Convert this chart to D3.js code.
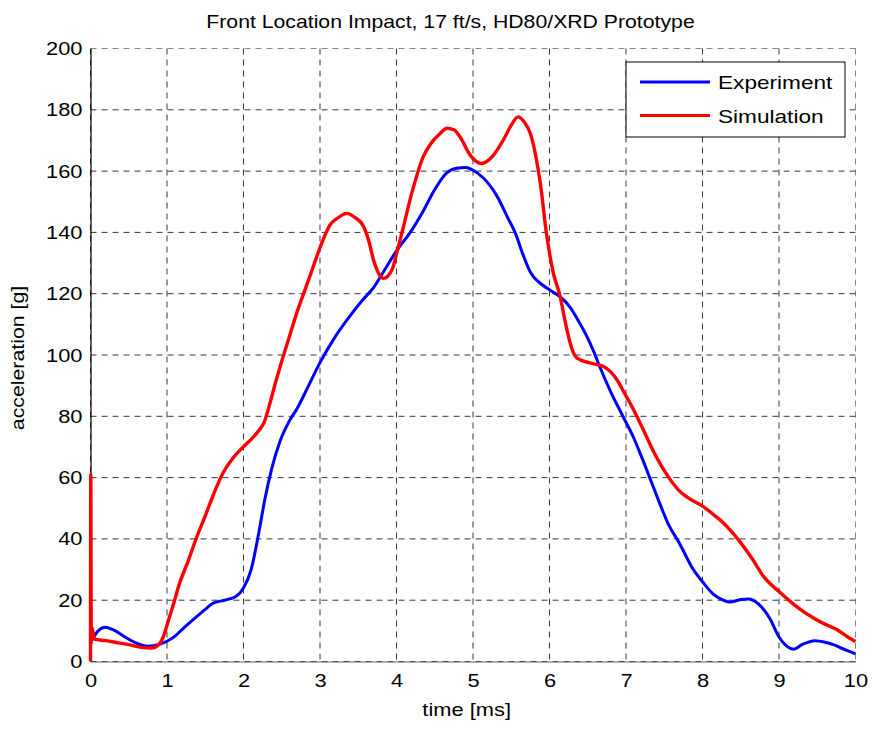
<!DOCTYPE html>
<html>
<head>
<meta charset="utf-8">
<script src="https://cdn.jsdelivr.net/npm/d3@7"></script>
<style>
  html, body { margin: 0; padding: 0; background: #fff; }
  svg { display: block; font-family: "Liberation Sans", Arial, sans-serif; }
</style>
</head>
<body>
<svg id="chart" width="875" height="729"></svg>
<script>
// Measured acceleration, [time ms, g]
const experimentT = [0.03,0.1,0.19,0.3,0.45,0.6,0.75,0.9,1.0,1.1,1.2,1.35,1.5,1.6,1.75,1.9,2.0,2.1,2.2,2.28,2.37,2.48,2.6,2.7,2.87,3.0,3.2,3.4,3.56,3.7,3.85,4.0,4.18,4.35,4.5,4.66,4.8,4.9,5.05,5.2,5.31,5.45,5.55,5.65,5.75,5.9,6.05,6.14,6.27,6.38,6.49,6.58,6.66,6.8,6.96,7.1,7.2,7.31,7.45,7.55,7.7,7.88,8.0,8.14,8.25,8.36,8.5,8.6,8.73,8.88,9.0,9.1,9.19,9.3,9.47,9.6,9.71,9.85,9.93,10];
const experimentG = [7.5,10,11.2,10.3,8,6,5,5.6,6.6,8.2,10.5,13.8,17,19,20,21.2,24,30,42,53,63,72,78.5,82.5,91,97.5,106,113,118,122,128,134,140,147,154,159.5,161,161.2,159.5,156,152,145,140,133,127,123,120.5,119,115.5,111,106,101,96,88,80,73,67,60,51,45,38.5,30,26,22,20.3,19.4,20.2,20.4,18.8,14,8,5,4,5.5,6.8,6.3,5.5,4,3.2,2.5];

// Simulated acceleration, [time ms, g]
const simulationT = [0,0.004,0.01,0.02,0.05,0.2,0.36,0.5,0.67,0.8,0.89,0.95,1.02,1.1,1.15,1.28,1.39,1.5,1.6,1.73,1.85,1.98,2.1,2.22,2.27,2.32,2.43,2.5,2.6,2.7,2.8,2.9,3.0,3.13,3.25,3.35,3.45,3.57,3.64,3.7,3.77,3.83,3.94,4.0,4.07,4.2,4.35,4.45,4.57,4.66,4.75,4.83,4.96,5.11,5.2,5.27,5.42,5.5,5.59,5.67,5.75,5.82,5.88,5.96,6.05,6.13,6.23,6.3,6.36,6.53,6.7,6.8,6.88,6.97,7.06,7.2,7.37,7.56,7.7,7.85,8.0,8.15,8.27,8.47,8.65,8.8,9.0,9.2,9.45,9.6,9.75,9.9,10];
const simulationG = [0,61,6,11,7.3,6.8,6.1,5.5,4.6,4.4,5.4,8,13.5,20,24.4,33,40.7,47.5,54,61.4,66,69.6,72.5,76,78,82,92,98,106,114,121,128,135,142.4,145,146.2,145,141.9,137,131,126.5,125,127.7,133,139.8,152.8,164.7,169,172.3,174,173.5,171.2,165.3,162.5,163.5,165.3,171.2,175,177.7,176,172.3,165,156,139.7,126.7,120,108,101.5,99,97.4,96.3,94.5,92,88,84,77,68,60,55.6,52.8,50.7,47.8,45.3,39.7,33.5,27.7,22.8,18.5,14.2,12.2,10.5,8,6.5];

const xTicks = [0,1,2,3,4,5,6,7,8,9,10];
const yTicks = [0,20,40,60,80,100,120,140,160,180,200];
const seriesNames = ["Experiment", "Simulation"];
const seriesColors = ["#0000ff", "#ff0000"];

const titleText = "Front Location Impact, 17 ft/s, HD80/XRD Prototype";
const xLabel = "time [ms]";
const yLabel = "acceleration [g]";

const svg = d3.select("#chart");
const plot = { left: 90.5, right: 855.5, top: 48.5, bottom: 661.5 };
const FONT = "Liberation Sans, Arial, sans-serif";

// widen glyphs horizontally by factor k (text stays real text)
function widen(sel, k) {
  sel.each(function () {
    const w = this.getComputedTextLength();
    d3.select(this).attr("textLength", w * k).attr("lengthAdjust", "spacingAndGlyphs");
  });
}

const x = d3.scaleLinear().domain([0, 10]).range([plot.left, plot.right]);
const y = d3.scaleLinear().domain([0, 200]).range([plot.bottom, plot.top]);

// dashed grid
const grid = svg.append("g");
grid.selectAll(".vg").data(xTicks).join("line")
  .attr("x1", d => x(d)).attr("x2", d => x(d))
  .attr("y1", plot.top).attr("y2", plot.bottom)
  .attr("stroke", "#222").attr("stroke-width", 1).attr("stroke-dasharray", "6,5")
  .attr("stroke-opacity", d => (d === 10 ? 0.55 : 0.9));
grid.selectAll(".hg").data(yTicks).join("line")
  .attr("x1", plot.left).attr("x2", plot.right)
  .attr("y1", d => y(d)).attr("y2", d => y(d))
  .attr("stroke", "#222").attr("stroke-width", 1).attr("stroke-dasharray", "6,5")
  .attr("stroke-opacity", d => (d === 200 ? 0.55 : 0.9));

// axes
const xAxis = d3.axisBottom(x).tickValues(xTicks).tickSize(0).tickPadding(12).tickFormat(d3.format("d"));
const yAxis = d3.axisLeft(y).tickValues(yTicks).tickSize(0).tickPadding(8).tickFormat(d3.format("d"));

const gx = svg.append("g").attr("transform", `translate(0,${plot.bottom})`).call(xAxis);
gx.select(".domain").attr("stroke", "#666").attr("stroke-width", 1);
gx.selectAll("text").attr("font-size", 19).attr("fill", "#000").attr("font-family", FONT)
  .call(widen, 1.15);

const gy = svg.append("g").attr("transform", `translate(${plot.left},0)`).call(yAxis);
gy.select(".domain").attr("stroke", "#000").attr("stroke-width", 1.2);
gy.selectAll("text").attr("font-size", 19).attr("fill", "#000").attr("font-family", FONT)
  .call(widen, 1.15);

// curves
const line = d3.line().x(d => x(d[0])).y(d => y(d[1])).curve(d3.curveMonotoneX);
const experiment = experimentT.map((t, i) => [t, experimentG[i]]);
const simulation = simulationT.map((t, i) => [t, simulationG[i]]);

svg.append("path").datum(experiment).attr("d", line)
  .attr("fill", "none").attr("stroke", seriesColors[0]).attr("stroke-width", 3)
  .attr("stroke-linejoin", "round");
svg.append("path").datum(simulation).attr("d", line)
  .attr("fill", "none").attr("stroke", seriesColors[1]).attr("stroke-width", 3.4)
  .attr("stroke-linejoin", "round");

// title and axis labels
svg.append("text").attr("x", 450.5).attr("y", 27.5)
  .attr("text-anchor", "middle").attr("font-size", 17.7).text(titleText)
  .call(widen, 1.2);
svg.append("text").attr("x", 466.7).attr("y", 716)
  .attr("text-anchor", "middle").attr("font-size", 19).text(xLabel)
  .call(widen, 1.15);
svg.append("text").attr("transform", `translate(23.5,358) rotate(-90)`)
  .attr("text-anchor", "middle").attr("font-size", 19).text(yLabel)
  .call(widen, 1.12);

// legend
const lg = svg.append("g").attr("transform", "translate(626,62)");
lg.append("rect").attr("width", 219).attr("height", 75)
  .attr("fill", "#fff").attr("stroke", "#000").attr("stroke-width", 1);
seriesNames.forEach((name, i) => {
  const yy = 20 + i * 33.5;
  lg.append("line").attr("x1", 14).attr("x2", 84).attr("y1", yy).attr("y2", yy)
    .attr("stroke", seriesColors[i]).attr("stroke-width", 3);
  lg.append("text").attr("x", 92).attr("y", yy + 7).attr("font-size", 19).text(name)
    .call(widen, 1.19);
});
</script>
</body>
</html>
